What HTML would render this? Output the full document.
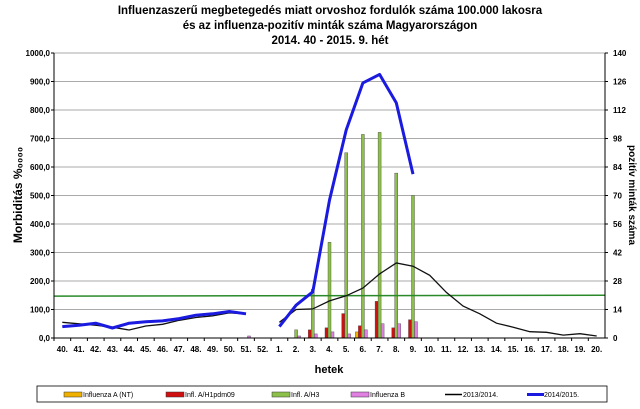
<!DOCTYPE html>
<html><head><meta charset="utf-8"><style>
body{margin:0;background:#fff;}
svg{display:block;font-family:"Liberation Sans",Arial,sans-serif;}
</style></head><body>
<svg id="chart" width="640" height="409">
<text x="330" y="14" text-anchor="middle" font-size="11.5" font-weight="bold">Influenzaszerű megbetegedés miatt orvoshoz fordulók száma 100.000 lakosra</text>
<text x="330" y="29" text-anchor="middle" font-size="11.5" font-weight="bold">és az influenza-pozitív minták száma Magyarországon</text>
<text x="330" y="44" text-anchor="middle" font-size="11.5" font-weight="bold">2014. 40 - 2015. 9. hét</text>
<g id="grid"></g>
<g id="bars"></g>
<g id="lines"></g>
<g id="axes"></g>
<text transform="translate(22,195) rotate(-90)" text-anchor="middle" font-size="12" font-weight="bold">Morbiditás %₀₀₀₀</text>
<text transform="translate(629,195) rotate(90)" text-anchor="middle" font-size="10" font-weight="bold">pozitív minták száma</text>
<text x="329" y="373" text-anchor="middle" font-size="11" font-weight="bold">hetek</text>
<g>
<rect x="37" y="386" width="570" height="16" fill="#fff" stroke="#000" stroke-width="0.8"/>
<rect x="64" y="392" width="18" height="5" fill="#f0b000" stroke="#333" stroke-width="0.5"/>
<text x="83" y="397" font-size="7">Influenza A (NT)</text>
<rect x="166" y="392" width="18" height="5" fill="#d01010" stroke="#333" stroke-width="0.5"/>
<text x="185" y="397" font-size="7">Infl. A/H1pdm09</text>
<rect x="272" y="392" width="18" height="5" fill="#8cc04a" stroke="#333" stroke-width="0.5"/>
<text x="291" y="397" font-size="7">Infl. A/H3</text>
<rect x="351" y="392" width="18" height="5" fill="#e080e0" stroke="#333" stroke-width="0.5"/>
<text x="370" y="397" font-size="7">Influenza B</text>
<line x1="445" y1="394.5" x2="462" y2="394.5" stroke="#000" stroke-width="1.5"/>
<text x="463" y="397" font-size="7">2013/2014.</text>
<line x1="527" y1="394.5" x2="544" y2="394.5" stroke="#1a1ae0" stroke-width="3"/>
<text x="544" y="397" font-size="7">2014/2015.</text>
</g>
</svg>
<script>
const weeks=["40.","41.","42.","43.","44.","45.","46.","47.","48.","49.","50.","51.","52.","1.","2.","3.","4.","5.","6.","7.","8.","9.","10.","11.","12.","13.","14.","15.","16.","17.","18.","19.","20."];
const season1415=[40,45,52,35,52,57,60,68,80,85,93,85,null,40,115,162,484,730,895,925,825,575,null,null,null,null,null,null,null,null,null,null,null];
const season1314=[55,50,45,38,28,42,48,62,72,78,88,85,null,55,100,102,130,148,175,225,263,252,220,160,112,85,52,38,22,20,10,15,7];
const thresholdStart=147, thresholdEnd=150;
const ntCounts=[0,0,0,0,0,0,0,0,0,0,0,0,0,0,0,0,0,0,3,0,0,0,0,0,0,0,0,0,0,0,0,0,0];
const h1Counts=[0,0,0,0,0,0,0,0,0,0,0,0,0,0,0,4,5,12,6,18,5,9,0,0,0,0,0,0,0,0,0,0,0];
const h3Counts=[0,0,0,0,0,0,0,0,0,0,0,0,0,0,4,24,47,91,100,101,81,70,0,0,0,0,0,0,0,0,0,0,0];
const bCounts=[0,0,0,0,0,0,0,0,0,0,0,1,0,0,1,2,3,2,4,7,7,8,0,0,0,0,0,0,0,0,0,0,0];
const leftTicks=["0,0","100,0","200,0","300,0","400,0","500,0","600,0","700,0","800,0","900,0","1000,0"];
const rightTicks=["0","14","28","42","56","70","84","98","112","126","140"];

const NS="http://www.w3.org/2000/svg";
const X0=54,X1=605,Y0=338,Y1=53;
const step=(X1-X0)/weeks.length;
const xc=i=>X0+step*(i+0.5);
const yL=v=>Y0-(v/1000)*(Y0-Y1);
const yR=v=>Y0-(v/140)*(Y0-Y1);
function mk(tag,attrs,parent){const e=document.createElementNS(NS,tag);for(const k in attrs)e.setAttribute(k,attrs[k]);parent.appendChild(e);return e;}
const grid=document.getElementById('grid'),axes=document.getElementById('axes'),bars=document.getElementById('bars'),lines=document.getElementById('lines');
leftTicks.forEach((t,i)=>{const y=yL(i*100);
 if(i>0){const g=mk('line',{x1:X0,x2:X1,y1:y,y2:y,stroke:'#aaa','stroke-width':1},grid);
 
 }
 const tx=mk('text',{x:X0-4,y:y+3,'text-anchor':'end','font-size':8,'font-weight':'bold'},axes);tx.textContent=t;
 
 
 mk('line',{x1:X0-3,x2:X0,y1:y,y2:y,stroke:'#000'},axes);
});
rightTicks.forEach((t,i)=>{const y=yR(i*14);
 const tx=mk('text',{x:X1+8,y:y+3,'font-size':8,'font-weight':'bold'},axes);tx.textContent=t;
 
 
 mk('line',{x1:X1,x2:X1+3,y1:y,y2:y,stroke:'#000'},axes);
});
mk('line',{x1:X0,x2:X0,y1:Y1,y2:Y0,stroke:'#000'},axes);
mk('line',{x1:X1,x2:X1,y1:Y1,y2:Y0,stroke:'#000'},axes);
mk('line',{x1:X0,x2:X1,y1:Y0,y2:Y0,stroke:'#000'},axes);
weeks.forEach((w,i)=>{
 mk('line',{x1:X0+step*i,x2:X0+step*i,y1:Y0,y2:Y0+3,stroke:'#000'},axes);
 const tx=mk('text',{x:xc(i),y:Y0+14,'text-anchor':'middle','font-size':8,'font-weight':'bold'},axes);tx.textContent=w;
 
 
});
const series=[[ntCounts,'#f0b000',-6,'bar-influenza-a-nt'],[h1Counts,'#d01010',-3,'bar-h1pdm09'],[h3Counts,'#8cc04a',0,'bar-h3'],[bCounts,'#e080e0',3,'bar-influenza-b']];
series.forEach(([arr,col,off,name])=>{arr.forEach((v,i)=>{if(!v)return;
 const r=mk('rect',{x:xc(i)+off-1.5,y:yR(v),width:3,height:Y0-yR(v),fill:col,stroke:'#444','stroke-width':0.4},bars);
 
 
});});
const th=mk('line',{x1:X0,x2:X1,y1:yL(thresholdStart),y2:yL(thresholdEnd),stroke:'#2a8a2a','stroke-width':1.5},lines);


function path(arr){let d='',pen=false;arr.forEach((v,i)=>{if(v==null){pen=false;return;}d+=(pen?'L':'M')+xc(i).toFixed(1)+','+yL(v).toFixed(1);pen=true;});return d;}
const l1=mk('path',{d:path(season1314),fill:'none',stroke:'#111','stroke-width':1.3},lines);


const l2=mk('path',{d:path(season1415),fill:'none',stroke:'#1a1ae0','stroke-width':3,'stroke-linejoin':'round'},lines);


</script>
</body></html>
